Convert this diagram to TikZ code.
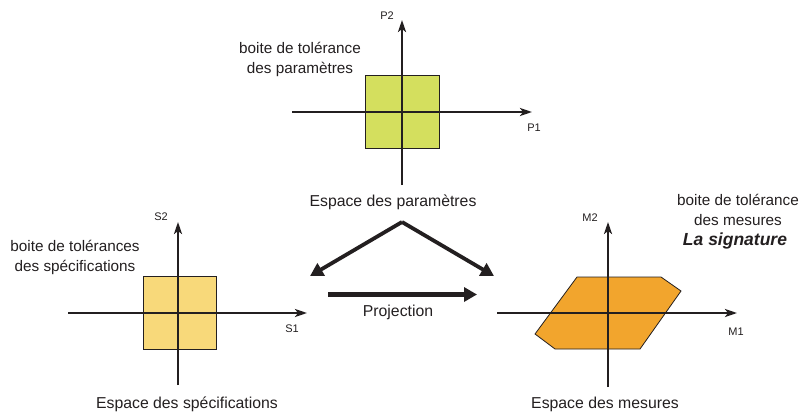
\documentclass[tikz,border=0pt]{standalone}
\usepackage{fontspec}
\setmainfont{Liberation Sans}
\usetikzlibrary{arrows.meta}
\definecolor{paramfill}{HTML}{D4DF5E}
\definecolor{specfill}{HTML}{F8D97A}
\definecolor{mesfill}{HTML}{F2A52D}
\definecolor{ink}{HTML}{231F20}
\tikzset{
  axis/.style={draw=ink, line width=2.4pt, -{Stealth[length=12pt,width=8pt,inset=3pt]}},
  tolbox/.style={draw=ink, line width=0.8pt},
  bigarrow/.style={draw=ink, line width=4pt, -{Triangle[length=13pt,width=14pt]}},
  axlabel/.style={font=\fontsize{11}{12}\selectfont, text=ink, inner sep=0pt},
  lbl/.style={font=\fontsize{15.3}{20}\selectfont, text=ink, align=center, inner sep=0pt},
  title/.style={font=\fontsize{15.8}{18}\selectfont, text=ink, inner sep=0pt},
}
\begin{document}
\begin{tikzpicture}[x=1pt,y=-1pt]
\useasboundingbox (0,0) rectangle (799,412);
% ---- top: parameters
\node[tolbox, fill=paramfill, minimum width=74pt, minimum height=73pt, inner sep=0pt] (pbox) at (402,111.5) {};
\draw[axis] (292,112) coordinate (pxs) -- (532,112) coordinate (pxe);
\draw[axis] (402,185) coordinate (pys) -- (402,20) coordinate (pye);
\node[axlabel] (P1) at (534,128) {P1};
\node[axlabel] (P2) at (387,16) {P2};
\node[lbl] (plab) at (300,59) {boite de tolérance\\des paramètres};
\node[title] (pesp) at (393,202) {Espace des paramètres};
% ---- left: specifications
\node[tolbox, fill=specfill, minimum width=73pt, minimum height=73pt, inner sep=0pt] (sbox) at (179.5,312.5) {};
\draw[axis] (68,313) coordinate (sxs) -- (307,313) coordinate (sxe);
\draw[axis] (178,385) coordinate (sys) -- (178,222) coordinate (sye);
\node[axlabel] (S1) at (292,329) {S1};
\node[axlabel] (S2) at (161,217) {S2};
\node[lbl] (slab) at (75,257) {boite de tolérances\\des spécifications};
\node[title] (sesp) at (187,404) {Espace des spécifications};
% ---- right: measures
\filldraw[tolbox, fill=mesfill] (577,277) coordinate (m1) -- (661,277) -- (681,291) -- (640,349) -- (555,349) -- (535,334) -- cycle;
\draw[axis] (497,313) coordinate (mxs) -- (737,313) coordinate (mxe);
\draw[axis] (608,387) coordinate (mys) -- (608,222) coordinate (mye);
\node[axlabel] (M1) at (736,332) {M1};
\node[axlabel] (M2) at (590,218) {M2};
\node[lbl] (mlab) at (738,210) {boite de tolérance\\des mesures};
\node[font=\fontsize{17.5}{20}\selectfont\bfseries\itshape, text=ink, inner sep=0pt] (sig) at (735,241) {La signature};
\node[title] (mesp) at (605,404) {Espace des mesures};
% ---- central arrows
\coordinate (apex) at (402,222);
\coordinate (tl) at (310,276);
\coordinate (tr) at (494,276);
\draw[bigarrow, line width=3.8pt, line join=miter] (apex) -- (tl);
\draw[bigarrow, line width=3.8pt, line join=miter] (apex) -- (tr);
\coordinate (prs) at (328,294.5);
\coordinate (pre) at (477,294.5);
\draw[bigarrow, line width=4.6pt] (prs) -- (pre);
\node[title] (proj) at (398,312) {Projection};
\end{tikzpicture}
\end{document}
